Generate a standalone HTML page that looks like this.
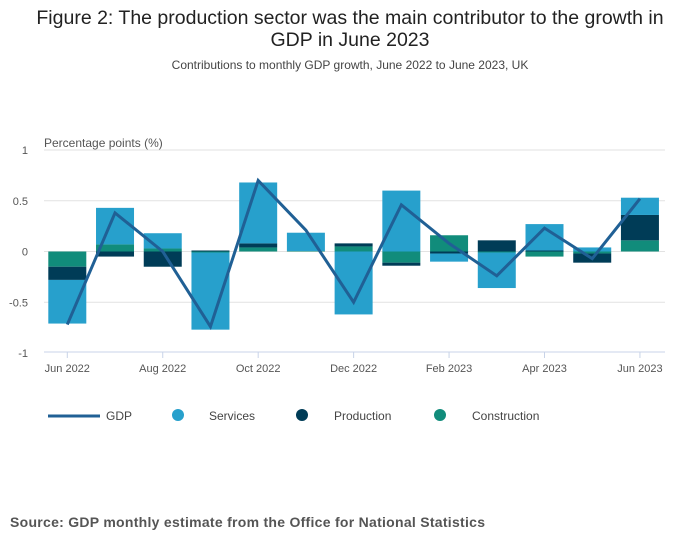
<!DOCTYPE html>
<html><head><meta charset="utf-8"><style>
body{margin:0;background:#fff;font-family:"Liberation Sans",sans-serif;}
#wrap{position:relative;width:700px;height:549px;}
</style></head><body>
<div id="wrap">
<svg id="svg" width="700" height="549" xmlns="http://www.w3.org/2000/svg">
<text x="350" y="24" text-anchor="middle" font-size="19.5" fill="#222">Figure 2: The production sector was the main contributor to the growth in</text>
<text x="350" y="46" text-anchor="middle" font-size="19.5" fill="#222">GDP in June 2023</text>
<text x="350" y="69" text-anchor="middle" font-size="12" fill="#444">Contributions to monthly GDP growth, June 2022 to June 2023, UK</text>
<text x="44" y="147" font-size="12" fill="#555">Percentage points (%)</text>
<g id="grid"></g><g id="bars"></g><g id="line"></g><g id="axes"></g>
<g>
<line x1="48" y1="416" x2="100" y2="416" stroke="#206095" stroke-width="3"/>
<text x="106" y="420" font-size="12" fill="#444">GDP</text>
<circle cx="178" cy="415" r="6" fill="#27a0cc"/>
<text x="209" y="420" font-size="12" fill="#444">Services</text>
<circle cx="302" cy="415" r="6" fill="#003c57"/>
<text x="334" y="420" font-size="12" fill="#444">Production</text>
<circle cx="440" cy="415" r="6" fill="#118c7b"/>
<text x="472" y="420" font-size="12" fill="#444">Construction</text>
</g>
<text x="10" y="527" font-size="14" font-weight="bold" fill="#555" textLength="475">Source: GDP monthly estimate from the Office for National Statistics</text>
</svg>
</div>
<script>
const months=["Jun 2022","Jul 2022","Aug 2022","Sep 2022","Oct 2022","Nov 2022","Dec 2022","Jan 2023","Feb 2023","Mar 2023","Apr 2023","May 2023","Jun 2023"];
const services=[-0.43,0.36,0.15,-0.76,0.6,0.18,-0.62,0.6,-0.08,-0.35,0.26,0.04,0.17];
const production=[-0.13,-0.05,-0.15,0.01,0.04,0.0,0.03,-0.03,-0.02,0.11,0.01,-0.09,0.25];
const construction=[-0.15,0.07,0.03,-0.01,0.04,0.005,0.05,-0.11,0.16,-0.01,-0.05,-0.02,0.11];
const gdp=[-0.72,0.38,0.0,-0.74,0.7,0.21,-0.5,0.46,0.08,-0.24,0.23,-0.07,0.52];
const yTicks=[1,0.5,0,-0.5,-1];
const xTickLabels=["Jun 2022","Aug 2022","Oct 2022","Dec 2022","Feb 2023","Apr 2023","Jun 2023"];

const NS="http://www.w3.org/2000/svg";
const y=v=>251.5-v*101.5;
const x=i=>67.3+i*47.72;
const bw=38;
function mk(tag,attrs,parent){const e=document.createElementNS(NS,tag);for(const k in attrs)e.setAttribute(k,attrs[k]);document.getElementById(parent).appendChild(e);return e;}
yTicks.forEach(t=>{
  if(t!==-1){const g=mk('line',{x1:44,x2:665,y1:y(t),y2:y(t),stroke:'#e2e2e2','stroke-width':1},'grid');
  
  }
  const tx=mk('text',{x:28,y:y(t)+4,'font-size':11,fill:'#555','text-anchor':'end'},'axes');
  tx.textContent=String(t);
  
  
});
const ax=mk('line',{x1:44,x2:665,y1:352,y2:352,stroke:'#c8d3e8','stroke-width':1},'axes');


months.forEach((m,i)=>{
  const k=xTickLabels.indexOf(m);
  if(k<0)return;
  const tk=mk('line',{x1:x(i),x2:x(i),y1:352,y2:358,stroke:'#c8d3e8'},'axes');
  
  
  const tx=mk('text',{x:x(i),y:372,'font-size':11,fill:'#555','text-anchor':'middle'},'axes');
  tx.textContent=m;
  
  
});
const series=[["construction",construction,"#118c7b"],["production",production,"#003c57"],["services",services,"#27a0cc"]];
months.forEach((m,i)=>{
  let pos=0,neg=0;
  series.forEach(([name,arr,col])=>{
    const v=arr[i];let a,b;
    if(v>=0){a=pos;b=pos+v;pos=b;}else{a=neg;b=neg+v;neg=b;}
    const r=mk('rect',{x:x(i)-bw/2,y:Math.min(y(a),y(b)),width:bw,height:Math.abs(y(a)-y(b)),fill:col},'bars');
    
    
  });
});
const p=mk('polyline',{points:gdp.map((v,i)=>x(i)+','+y(v)).join(' '),fill:'none',stroke:'#206095','stroke-width':3,'stroke-linejoin':'miter'},'line');


</script>
</body></html>
